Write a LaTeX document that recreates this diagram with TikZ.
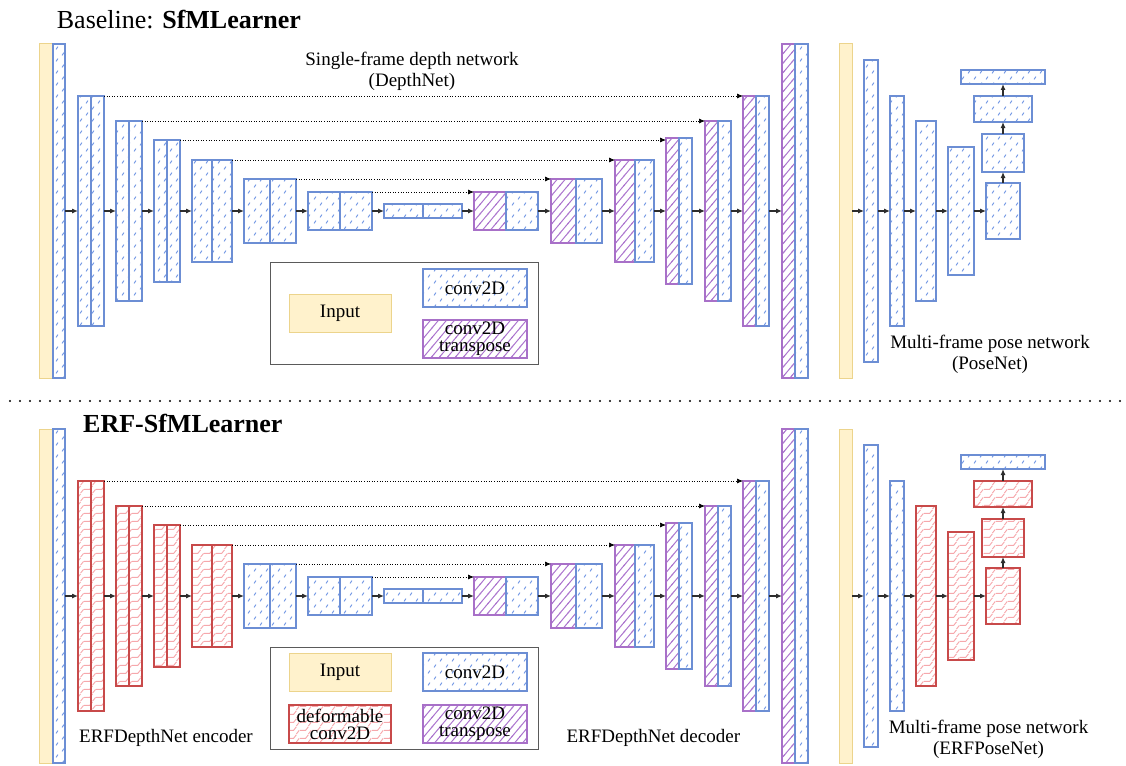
\documentclass[tikz,border=0pt]{standalone}
\usepackage{fontspec}
\setmainfont{Liberation Serif}
\usetikzlibrary{positioning,patterns,arrows.meta}

\definecolor{convblue}{RGB}{108,142,212}
\definecolor{convdash}{RGB}{106,146,226}
\definecolor{tconvpurple}{RGB}{168,112,200}
\definecolor{tconvline}{RGB}{172,118,206}
\definecolor{dconvred}{RGB}{200,74,74}
\definecolor{dconvpink}{RGB}{246,168,172}
\definecolor{inputfill}{RGB}{255,242,204}
\definecolor{inputline}{RGB}{236,212,140}
\definecolor{arrowgray}{RGB}{45,45,45}
\definecolor{legendgray}{RGB}{90,90,90}

% fill patterns of the three layer types
\pgfdeclarepatternformonly{dashtile}{\pgfqpoint{-1pt}{-1pt}}{\pgfqpoint{13pt}{13pt}}{\pgfqpoint{12pt}{12pt}}{%
  \pgfsetlinewidth{0.9pt}\pgfsetroundcap
  \pgfpathmoveto{\pgfqpoint{2.2pt}{1.8pt}}\pgfpathlineto{\pgfqpoint{3.8pt}{4.2pt}}%
  \pgfpathmoveto{\pgfqpoint{8.2pt}{7.8pt}}\pgfpathlineto{\pgfqpoint{9.8pt}{10.2pt}}%
  \pgfusepath{stroke}}
\pgfdeclarepatternformonly{hatchtile}{\pgfqpoint{-1pt}{-1.2pt}}{\pgfqpoint{9pt}{10.7pt}}{\pgfqpoint{8pt}{9.5pt}}{%
  \pgfsetlinewidth{1pt}%
  \pgfpathmoveto{\pgfqpoint{-0.8pt}{-0.95pt}}\pgfpathlineto{\pgfqpoint{8.8pt}{10.45pt}}%
  \pgfusepath{stroke}}
\pgfdeclarepatternformonly{zigtile}{\pgfqpoint{0pt}{0pt}}{\pgfqpoint{12pt}{8pt}}{\pgfqpoint{12pt}{8pt}}{%
  \pgfsetlinewidth{1pt}%
  \pgfpathmoveto{\pgfqpoint{0pt}{4pt}}\pgfpathlineto{\pgfqpoint{6pt}{4pt}}\pgfpathlineto{\pgfqpoint{9pt}{8pt}}%
  \pgfpathmoveto{\pgfqpoint{9pt}{0pt}}\pgfpathlineto{\pgfqpoint{12pt}{4pt}}%
  \pgfusepath{stroke}}

\begin{document}
\begin{tikzpicture}[
    x=1pt, y=-1pt,
    >={Latex[length=6pt,width=5pt]},
    sz/.style 2 args={minimum width=#1pt, minimum height=#2pt},
    box/.style={draw, line width=2pt, inner sep=0pt, outer sep=0pt},
    conv/.style={box, draw=convblue, pattern=dashtile, pattern color=convdash},
    tconv/.style={box, draw=tconvpurple, pattern=hatchtile, pattern color=tconvline},
    dconv/.style={box, draw=dconvred, pattern=zigtile, pattern color=dconvpink},
    inbox/.style={draw=inputline, fill=inputfill, line width=1pt, inner sep=0pt, outer sep=0pt},
    legendbox/.style={font=\fontsize{19}{17}\selectfont, align=center},
    lbl/.style={font=\fontsize{19}{21}\selectfont, align=center, inner sep=0pt},
    heading/.style={font=\fontsize{26}{28}\selectfont, inner sep=0pt, anchor=base west},
    every edge/.style={draw=arrowgray, line width=1.1pt, ->},
    skip/.style={draw=black, line width=0.7pt, dash pattern=on 1pt off 1.6pt},
]
\useasboundingbox (0,0) rectangle (1126,765);

% ---------- Baseline: SfMLearner ----------
\node[heading] (s-title) at (56.7,29) {Baseline: \textbf{SfMLearner}};
\node[lbl] (s-depthlbl) at (412,71) {Single-frame depth network\\(DepthNet)};

\node[inbox, sz={14}{334}] (s-in) at (46,211) {};
\node[conv, sz={12}{334}, right=0pt of s-in] (s-c0) {};
\node[conv, sz={13}{230}, right=13pt of s-c0] (s-e1l) {};
\node[conv, sz={13}{230}, right=0pt of s-e1l] (s-e1r) {};
\node[conv, sz={13}{180}, right=12pt of s-e1r] (s-e2l) {};
\node[conv, sz={13}{180}, right=0pt of s-e2l] (s-e2r) {};
\node[conv, sz={13}{142}, right=12pt of s-e2r] (s-e3l) {};
\node[conv, sz={13}{142}, right=0pt of s-e3l] (s-e3r) {};
\node[conv, sz={20}{102}, right=12pt of s-e3r] (s-e4l) {};
\node[conv, sz={20}{102}, right=0pt of s-e4l] (s-e4r) {};
\node[conv, sz={26}{64}, right=12pt of s-e4r] (s-e5l) {};
\node[conv, sz={26}{64}, right=0pt of s-e5l] (s-e5r) {};
\node[conv, sz={32}{38}, right=12pt of s-e5r] (s-e6l) {};
\node[conv, sz={32}{38}, right=0pt of s-e6l] (s-e6r) {};
\node[conv, sz={39}{14}, right=12pt of s-e6r] (s-ml) {};
\node[conv, sz={39}{14}, right=0pt of s-ml] (s-mr) {};
\node[tconv, sz={32}{38}, right=12pt of s-mr] (s-d1l) {};
\node[conv, sz={32}{38}, right=0pt of s-d1l] (s-d1r) {};
\node[tconv, sz={25}{64}, right=13pt of s-d1r] (s-d2l) {};
\node[conv, sz={26}{64}, right=0pt of s-d2l] (s-d2r) {};
\node[tconv, sz={20}{102}, right=13pt of s-d2r] (s-d3l) {};
\node[conv, sz={19}{102}, right=0pt of s-d3l] (s-d3r) {};
\node[tconv, sz={13}{146}, right=12pt of s-d3r] (s-d4l) {};
\node[conv, sz={13}{146}, right=0pt of s-d4l] (s-d4r) {};
\node[tconv, sz={13}{180}, right=13pt of s-d4r] (s-d5l) {};
\node[conv, sz={13}{180}, right=0pt of s-d5l] (s-d5r) {};
\node[tconv, sz={13}{230}, right=12pt of s-d5r] (s-d6l) {};
\node[conv, sz={13}{230}, right=0pt of s-d6l] (s-d6r) {};
\node[tconv, sz={13}{334}, right=13pt of s-d6r] (s-d7l) {};
\node[conv, sz={13}{334}, right=0pt of s-d7l] (s-d7r) {};

\node[draw=legendgray, line width=1pt, sz={268}{102}] (s-key) at (404,313) {};
\node[inbox, sz={102}{38}, legendbox] (s-key-in) at (340,313) {Input};
\node[conv, sz={104}{38}, legendbox] (s-key-conv) at (475,288) {conv2D};
\node[tconv, sz={104}{38}, legendbox] (s-key-tconv) at (475,339) {conv2D\\transpose};

\node[inbox, sz={13}{334}] (s-pin) at (845.5,211) {};
\node[conv, sz={14}{302}, right=12pt of s-pin] (s-p1) {};
\node[conv, sz={14}{230}, right=12pt of s-p1] (s-p2) {};
\node[conv, sz={20}{180}, right=12pt of s-p2] (s-p3) {};
\node[conv, sz={26}{128}, right=12pt of s-p3] (s-p4) {};
\node[conv, sz={34}{56}, right=12pt of s-p4] (s-p5) {};
\node[conv, sz={42}{38}, above=11pt of s-p5] (s-p6) {};
\node[conv, sz={58}{26}, above=12pt of s-p6] (s-p7) {};
\node[conv, sz={84}{14}, above=12pt of s-p7] (s-p8) {};
\node[lbl] (s-poselbl) at (990,354) {Multi-frame pose network\\(PoseNet)};

\path (s-c0.east) edge (s-e1l.west)
      (s-e1r.east) edge (s-e2l.west)
      (s-e2r.east) edge (s-e3l.west)
      (s-e3r.east) edge (s-e4l.west)
      (s-e4r.east) edge (s-e5l.west)
      (s-e5r.east) edge (s-e6l.west)
      (s-e6r.east) edge (s-ml.west)
      (s-mr.east) edge (s-d1l.west)
      (s-d1r.east) edge (s-d2l.west)
      (s-d2r.east) edge (s-d3l.west)
      (s-d3r.east) edge (s-d4l.west)
      (s-d4r.east) edge (s-d5l.west)
      (s-d5r.east) edge (s-d6l.west)
      (s-d6r.east) edge (s-d7l.west);
\path (s-e1r.north east) edge[skip] (s-e1r.north east -| s-d6l.west)
      (s-e2r.north east) edge[skip] (s-e2r.north east -| s-d5l.west)
      (s-e3r.north east) edge[skip] (s-e3r.north east -| s-d4l.west)
      (s-e4r.north east) edge[skip] (s-e4r.north east -| s-d3l.west)
      (s-e5r.north east) edge[skip] (s-e5r.north east -| s-d2l.west)
      (s-e6r.north east) edge[skip] (s-e6r.north east -| s-d1l.west);
\path (s-pin.east) edge (s-p1.west)
      (s-p1.east) edge (s-p2.west)
      (s-p2.east) edge (s-p3.west)
      (s-p3.east) edge (s-p4.west)
      (s-p4.east) edge (s-p5.west)
      (s-p5.north) edge (s-p6.south)
      (s-p6.north) edge (s-p7.south)
      (s-p7.north) edge (s-p8.south);

\draw[line width=2.4pt, dash pattern=on 0pt off 10pt, line cap=round] (10,401) -- (1126,401);

% ---------- ERF-SfMLearner ----------
\node[heading] (r-title) at (83,432) {\textbf{ERF-SfMLearner}};

\node[inbox, sz={14}{334}] (r-in) at (46,596) {};
\node[conv, sz={12}{334}, right=0pt of r-in] (r-c0) {};
\node[dconv, sz={13}{230}, right=13pt of r-c0] (r-e1l) {};
\node[dconv, sz={13}{230}, right=0pt of r-e1l] (r-e1r) {};
\node[dconv, sz={13}{180}, right=12pt of r-e1r] (r-e2l) {};
\node[dconv, sz={13}{180}, right=0pt of r-e2l] (r-e2r) {};
\node[dconv, sz={13}{142}, right=12pt of r-e2r] (r-e3l) {};
\node[dconv, sz={13}{142}, right=0pt of r-e3l] (r-e3r) {};
\node[dconv, sz={20}{102}, right=12pt of r-e3r] (r-e4l) {};
\node[dconv, sz={20}{102}, right=0pt of r-e4l] (r-e4r) {};
\node[conv, sz={26}{64}, right=12pt of r-e4r] (r-e5l) {};
\node[conv, sz={26}{64}, right=0pt of r-e5l] (r-e5r) {};
\node[conv, sz={32}{38}, right=12pt of r-e5r] (r-e6l) {};
\node[conv, sz={32}{38}, right=0pt of r-e6l] (r-e6r) {};
\node[conv, sz={39}{14}, right=12pt of r-e6r] (r-ml) {};
\node[conv, sz={39}{14}, right=0pt of r-ml] (r-mr) {};
\node[tconv, sz={32}{38}, right=12pt of r-mr] (r-d1l) {};
\node[conv, sz={32}{38}, right=0pt of r-d1l] (r-d1r) {};
\node[tconv, sz={25}{64}, right=13pt of r-d1r] (r-d2l) {};
\node[conv, sz={26}{64}, right=0pt of r-d2l] (r-d2r) {};
\node[tconv, sz={20}{102}, right=13pt of r-d2r] (r-d3l) {};
\node[conv, sz={19}{102}, right=0pt of r-d3l] (r-d3r) {};
\node[tconv, sz={13}{146}, right=12pt of r-d3r] (r-d4l) {};
\node[conv, sz={13}{146}, right=0pt of r-d4l] (r-d4r) {};
\node[tconv, sz={13}{180}, right=13pt of r-d4r] (r-d5l) {};
\node[conv, sz={13}{180}, right=0pt of r-d5l] (r-d5r) {};
\node[tconv, sz={13}{230}, right=12pt of r-d5r] (r-d6l) {};
\node[conv, sz={13}{230}, right=0pt of r-d6l] (r-d6r) {};
\node[tconv, sz={13}{334}, right=13pt of r-d6r] (r-d7l) {};
\node[conv, sz={13}{334}, right=0pt of r-d7l] (r-d7r) {};

\node[draw=legendgray, line width=1pt, sz={268}{102}] (r-key) at (404,698) {};
\node[inbox, sz={102}{38}, legendbox] (r-key-in) at (340,672) {Input};
\node[conv, sz={104}{38}, legendbox] (r-key-conv) at (475,672) {conv2D};
\node[dconv, sz={102}{38}, legendbox] (r-key-dconv) at (340,724) {deformable\\conv2D};
\node[tconv, sz={104}{38}, legendbox] (r-key-tconv) at (475,724) {conv2D\\transpose};
\node[lbl] (r-enclbl) at (166,738.3) {ERFDepthNet encoder};
\node[lbl] (r-declbl) at (653.3,738.3) {ERFDepthNet decoder};

\node[inbox, sz={13}{334}] (r-pin) at (845.5,596) {};
\node[conv, sz={14}{302}, right=12pt of r-pin] (r-p1) {};
\node[conv, sz={14}{230}, right=12pt of r-p1] (r-p2) {};
\node[dconv, sz={20}{180}, right=12pt of r-p2] (r-p3) {};
\node[dconv, sz={26}{128}, right=12pt of r-p3] (r-p4) {};
\node[dconv, sz={34}{56}, right=12pt of r-p4] (r-p5) {};
\node[dconv, sz={42}{38}, above=11pt of r-p5] (r-p6) {};
\node[dconv, sz={58}{26}, above=12pt of r-p6] (r-p7) {};
\node[conv, sz={84}{14}, above=12pt of r-p7] (r-p8) {};
\node[lbl] (r-poselbl) at (988.5,739) {Multi-frame pose network\\(ERFPoseNet)};

\path (r-c0.east) edge (r-e1l.west)
      (r-e1r.east) edge (r-e2l.west)
      (r-e2r.east) edge (r-e3l.west)
      (r-e3r.east) edge (r-e4l.west)
      (r-e4r.east) edge (r-e5l.west)
      (r-e5r.east) edge (r-e6l.west)
      (r-e6r.east) edge (r-ml.west)
      (r-mr.east) edge (r-d1l.west)
      (r-d1r.east) edge (r-d2l.west)
      (r-d2r.east) edge (r-d3l.west)
      (r-d3r.east) edge (r-d4l.west)
      (r-d4r.east) edge (r-d5l.west)
      (r-d5r.east) edge (r-d6l.west)
      (r-d6r.east) edge (r-d7l.west);
\path (r-e1r.north east) edge[skip] (r-e1r.north east -| r-d6l.west)
      (r-e2r.north east) edge[skip] (r-e2r.north east -| r-d5l.west)
      (r-e3r.north east) edge[skip] (r-e3r.north east -| r-d4l.west)
      (r-e4r.north east) edge[skip] (r-e4r.north east -| r-d3l.west)
      (r-e5r.north east) edge[skip] (r-e5r.north east -| r-d2l.west)
      (r-e6r.north east) edge[skip] (r-e6r.north east -| r-d1l.west);
\path (r-pin.east) edge (r-p1.west)
      (r-p1.east) edge (r-p2.west)
      (r-p2.east) edge (r-p3.west)
      (r-p3.east) edge (r-p4.west)
      (r-p4.east) edge (r-p5.west)
      (r-p5.north) edge (r-p6.south)
      (r-p6.north) edge (r-p7.south)
      (r-p7.north) edge (r-p8.south);
\end{tikzpicture}
\end{document}
